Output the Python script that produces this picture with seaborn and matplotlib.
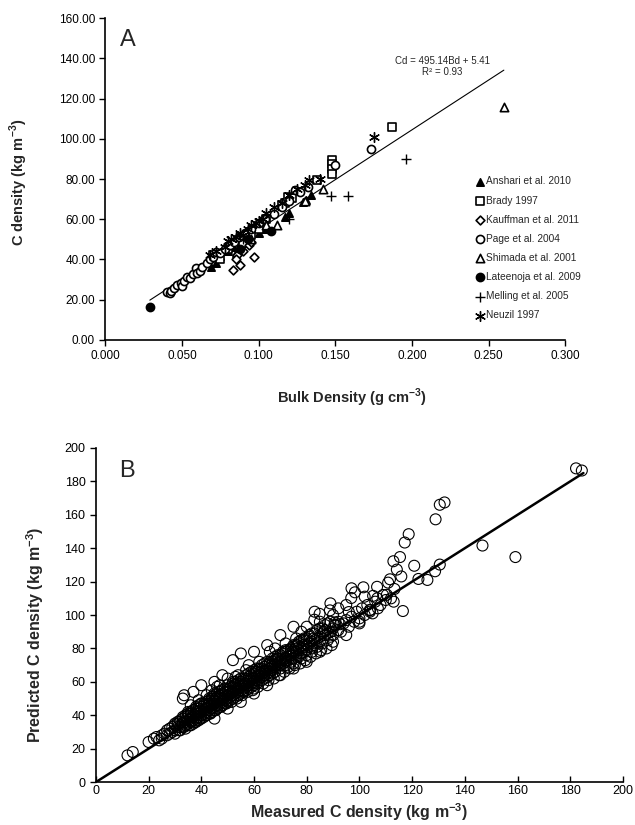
import matplotlib
matplotlib.use("Agg")
import matplotlib.pyplot as plt
import seaborn as sns
import pandas as pd

sns.set_style("ticks")
plt.rcParams['font.family'] = ['Liberation Sans', 'DejaVu Sans']
plt.rcParams['mathtext.fontset'] = 'custom'
plt.rcParams['mathtext.rm'] = 'Liberation Sans'
plt.rcParams['mathtext.bf'] = 'Liberation Sans:bold'

# ---- panel A: bulk density (g cm-3) vs C density (kg m-3), per study ----
anshari_bd = [0.069, 0.072, 0.075, 0.080, 0.083, 0.085, 0.090, 0.100, 0.105, 0.117, 0.120, 0.129, 0.131, 0.134]
anshari_cd = [36.4, 38.0, 41.7, 44.0, 46.0, 43.0, 48.0, 53.0, 55.0, 61.3, 63.0, 68.7, 69.5, 72.0]

brady_bd = [0.070, 0.075, 0.080, 0.090, 0.095, 0.100, 0.105, 0.115, 0.117, 0.119, 0.122, 0.138, 0.148, 0.148, 0.148, 0.148, 0.187]
brady_cd = [42.0, 40.0, 45.0, 48.0, 52.0, 55.0, 60.0, 67.0, 68.0, 71.2, 70.4, 79.3, 89.4, 87.5, 85.0, 82.5, 106.0]

kauffman_bd = [0.083, 0.088, 0.097, 0.086, 0.094, 0.090, 0.095, 0.085]
kauffman_cd = [34.8, 37.3, 41.1, 42.2, 47.2, 44.0, 48.5, 40.0]

page_bd = [0.040, 0.042, 0.043, 0.045, 0.047, 0.049, 0.050, 0.051, 0.053, 0.055, 0.057, 0.059, 0.060,
           0.062, 0.063, 0.066, 0.068, 0.070, 0.072, 0.075, 0.078, 0.081, 0.084, 0.087, 0.091, 0.095,
           0.100, 0.104, 0.110, 0.115, 0.120, 0.124, 0.127, 0.132, 0.150, 0.173]
page_cd = [24.0, 23.5, 24.5, 26.0, 27.5, 28.2, 27.0, 29.5, 31.5, 31.0, 33.0, 35.8, 33.5,
           34.5, 36.5, 38.0, 40.0, 41.0, 43.9, 43.0, 45.0, 47.0, 48.5, 51.0, 53.0, 55.0,
           58.0, 60.0, 62.5, 66.0, 69.0, 74.5, 73.7, 76.0, 87.0, 95.0]

shimada_bd = [0.095, 0.105, 0.112, 0.130, 0.142, 0.260]
shimada_cd = [50.0, 57.0, 57.0, 69.0, 74.9, 115.9]

lateenoja_bd = [0.029, 0.088, 0.093, 0.108]
lateenoja_cd = [16.6, 45.0, 50.0, 54.2]

melling_bd = [0.090, 0.120, 0.147, 0.158, 0.196]
melling_cd = [50.0, 60.0, 71.7, 71.7, 89.8]

neuzil_bd = [0.068, 0.072, 0.078, 0.080, 0.082, 0.085, 0.088, 0.090, 0.093, 0.095, 0.098, 0.100,
             0.103, 0.105, 0.110, 0.115, 0.120, 0.125, 0.130, 0.133, 0.140, 0.175]
neuzil_cd = [42.0, 44.0, 46.0, 49.0, 50.0, 51.0, 53.0, 52.0, 55.0, 57.0, 58.0, 59.0,
             60.0, 63.0, 66.0, 68.0, 72.0, 75.0, 77.0, 79.5, 80.0, 101.0]

fit_a_slope = 495.14
fit_a_intercept = 5.41
fit_a_range = [0.029, 0.260]

# ---- panel B: measured vs predicted C density (kg m-3) ----
meas_b = [
    12, 14, 20, 22, 23, 24, 25, 25, 26, 27,
    27, 28, 28, 29, 29, 30, 30, 30, 31, 31,
    32, 32, 32, 33, 33, 33, 34, 34, 34, 34,
    35, 35, 35, 35, 36, 36, 36, 36, 37, 37,
    37, 37, 38, 38, 38, 38, 38, 39, 39, 39,
    39, 40, 40, 40, 40, 40, 41, 41, 41, 41,
    42, 42, 42, 42, 43, 43, 43, 43, 43, 44,
    44, 44, 44, 45, 45, 45, 45, 45, 46, 46,
    46, 46, 47, 47, 47, 47, 47, 48, 48, 48,
    48, 48, 49, 49, 49, 49, 50, 50, 50, 50,
    50, 51, 51, 51, 51, 52, 52, 52, 52, 52,
    53, 53, 53, 53, 54, 54, 54, 54, 55, 55,
    55, 55, 56, 56, 56, 56, 57, 57, 57, 57,
    58, 58, 58, 58, 59, 59, 59, 59, 60, 60,
    60, 60, 61, 61, 61, 61, 62, 62, 62, 62,
    63, 63, 63, 63, 64, 64, 64, 64, 65, 65,
    65, 65, 66, 66, 66, 66, 67, 67, 67, 67,
    68, 68, 68, 69, 69, 69, 70, 70, 70, 70,
    71, 71, 71, 72, 72, 72, 72, 73, 73, 73,
    74, 74, 74, 75, 75, 75, 75, 76, 76, 76,
    77, 77, 77, 78, 78, 78, 79, 79, 79, 80,
    80, 80, 81, 81, 82, 82, 82, 83, 83, 84,
    84, 85, 85, 86, 86, 87, 87, 88, 88, 89,
    89, 90, 90, 91, 92, 92, 93, 94, 95, 96,
    97, 98, 99, 100, 101, 102, 103, 104, 105, 106,
    33, 33.5, 37, 40, 45, 48, 52, 55, 60, 65,
    70, 75, 80, 83, 89, 95, 97, 102, 104, 100,
    42, 46, 50, 54, 58, 62, 66, 68, 72, 76,
    78, 85, 90, 92, 45, 50, 55, 60, 65, 70,
    75, 80, 85, 90, 95, 100, 60, 104, 108, 110,
    112, 107, 109, 113, 36, 39, 44, 47, 53, 57,
    30, 31, 32, 33, 34, 35, 36, 37, 38, 39,
    40, 41, 42, 43, 44, 45, 46, 47, 48, 49,
    50, 51, 52, 53, 54, 55, 56, 57, 58, 59,
    60, 61, 62, 63, 64, 65, 66, 67, 68, 69,
    70, 71, 72, 73, 74, 75, 76, 77, 78, 79,
    80, 81, 82, 83, 84, 85, 86, 87, 88, 89,
    31.5, 33.5, 35.5, 37.5, 39.5, 41.5, 43.5, 45.5, 47.5, 49.5,
    51.5, 53.5, 55.5, 57.5, 59.5, 61.5, 63.5, 65.5, 67.5, 69.5,
    71.5, 73.5, 75.5, 77.5, 79.5, 81.5, 83.5, 85.5, 87.5, 89.5,
    34.5, 38.5, 42.5, 46.5, 50.5, 54.5, 58.5, 62.5, 66.5, 70.5,
    74.5, 78.5, 82.5, 86.5, 90.5, 44.5, 52.5, 60.5, 68.5, 76.5,
    182.2, 184.4, 130.5, 132.3, 128.9, 118.7, 117.2, 146.7, 159.2, 130.5,
    128.7, 125.8, 122.4, 120.8, 115.4, 112.9, 114.2, 111.6, 115.9, 110.9,
    113.3, 110.4, 116.5, 106.7, 101.5, 98.3, 96.9, 105.2, 106.8, 96.0,
    88.8, 84.9, 82.9, 90.7, 92.7,
]
pred_b = [
    16, 18, 24, 26, 27, 25, 28, 26, 29, 28,
    31, 29, 32, 30, 33, 31, 34, 29, 33, 35,
    33, 36, 31, 35, 38, 33, 36, 34, 39, 32,
    37, 35, 40, 42, 38, 36, 41, 34, 39, 37,
    43, 35, 40, 38, 42, 45, 36, 41, 39, 44,
    37, 42, 40, 45, 38, 47, 43, 41, 46, 39,
    44, 42, 47, 40, 45, 43, 49, 41, 47, 46,
    44, 50, 42, 47, 45, 49, 43, 53, 48, 46,
    51, 44, 49, 47, 52, 45, 50, 50, 48, 53,
    46, 55, 51, 49, 54, 47, 52, 50, 55, 48,
    58, 53, 51, 56, 49, 54, 52, 57, 50, 60,
    55, 53, 58, 51, 56, 54, 59, 52, 57, 55,
    60, 53, 58, 56, 61, 54, 59, 57, 62, 55,
    60, 58, 63, 56, 61, 59, 64, 57, 62, 60,
    65, 58, 63, 61, 66, 59, 64, 62, 67, 60,
    65, 63, 68, 61, 66, 64, 69, 62, 67, 65,
    70, 63, 68, 66, 71, 64, 69, 67, 72, 65,
    70, 73, 66, 71, 69, 74, 72, 68, 76, 70,
    73, 71, 77, 74, 70, 78, 72, 75, 73, 69,
    76, 72, 79, 77, 74, 81, 71, 78, 75, 80,
    79, 75, 83, 80, 77, 74, 81, 78, 85, 82,
    79, 76, 83, 87, 84, 80, 78, 85, 82, 86,
    81, 87, 84, 89, 83, 88, 91, 89, 85, 90,
    87, 92, 88, 94, 91, 96, 90, 95, 97, 93,
    99, 96, 102, 98, 104, 100, 106, 103, 101, 108,
    50, 52, 54, 58, 60, 64, 73, 77, 78, 82,
    88, 93, 93, 102, 107, 106, 116, 111, 102, 96,
    52, 57, 62, 64, 70, 72, 78, 80, 83, 86,
    90, 96, 100, 104, 38, 44, 48, 53, 58, 64,
    68, 72, 78, 84, 88, 95, 56, 103, 106, 109,
    110, 104, 112, 108, 46, 49, 55, 58, 63, 67,
    35, 36, 37, 39, 40, 41, 42, 43, 44, 46,
    47, 47, 48, 50, 51, 52, 53, 54, 55, 56,
    56, 57, 59, 60, 61, 62, 62, 64, 65, 66,
    67, 68, 68, 70, 71, 72, 72, 74, 75, 76,
    76, 78, 79, 79, 80, 82, 82, 84, 85, 86,
    86, 88, 89, 89, 91, 92, 92, 94, 95, 96,
    31, 33, 34, 36, 38, 40, 41, 43, 45, 47,
    48, 50, 52, 54, 55, 57, 59, 61, 62, 64,
    66, 68, 70, 71, 73, 75, 77, 79, 80, 82,
    38, 42, 46, 50, 54, 58, 62, 66, 70, 74,
    78, 82, 86, 90, 94, 50, 58, 66, 74, 82,
    187.8, 186.5, 166.0, 167.4, 157.3, 148.4, 143.4, 141.6, 134.7, 130.2,
    126.2, 121.0, 121.6, 129.5, 134.7, 132.2, 127.2, 121.4, 123.1, 119.4,
    115.6, 112.1, 102.4, 116.9, 116.6, 113.6, 110.2, 111.5, 110.0, 101.8,
    102.8, 100.7, 97.2, 95.6, 94.5,
]
line_b = [0, 185]

studies = [
    ("Anshari et al. 2010", anshari_bd, anshari_cd, "^", "black", 28),
    ("Brady 1997", brady_bd, brady_cd, "s", "white", 34),
    ("Kauffman et al. 2011", kauffman_bd, kauffman_cd, "D", "white", 20),
    ("Page et al. 2004", page_bd, page_cd, "o", "white", 34),
    ("Shimada et al. 2001", shimada_bd, shimada_cd, "^", "white", 36),
    ("Lateenoja et al. 2009", lateenoja_bd, lateenoja_cd, "o", "black", 34),
    ("Melling et al. 2005", melling_bd, melling_cd, "+", None, 50),
    ("Neuzil 1997", neuzil_bd, neuzil_cd, (6, 2, 0), None, 50),
]

fig = plt.figure(figsize=(6.35, 8.25), dpi=100)
ax1 = fig.add_axes([0.166, 0.588, 0.724, 0.390])
ax2 = fig.add_axes([0.151, 0.052, 0.830, 0.405])

# panel A
for name, bd, cd, mk, face, size in studies:
    if face is None:
        sns.scatterplot(x=bd, y=cd, marker=mk, color="black", s=size, linewidth=1.0,
                        ax=ax1, label=name, zorder=3)
    else:
        sns.scatterplot(x=bd, y=cd, marker=mk, facecolor=face, edgecolor="black", s=size,
                        linewidth=1.2, ax=ax1, label=name, zorder=3)

fit_df = pd.DataFrame({"bd": fit_a_range,
                       "cd": [fit_a_slope * v + fit_a_intercept for v in fit_a_range]})
sns.lineplot(data=fit_df, x="bd", y="cd", color="black", linewidth=0.8, ax=ax1, zorder=2)
ax1.text(0.220, 135.8, "Cd = 495.14Bd + 5.41\nR² = 0.93", ha="center", va="center",
         fontsize=7, linespacing=1.1)

ax1.set_xlim(0, 0.3)
ax1.set_ylim(0, 160)
ax1.set_xticks([0, 0.05, 0.1, 0.15, 0.2, 0.25, 0.3])
ax1.set_yticks(range(0, 161, 20))
ax1.xaxis.set_major_formatter(matplotlib.ticker.FormatStrFormatter("%.3f"))
ax1.yaxis.set_major_formatter(matplotlib.ticker.FormatStrFormatter("%.2f"))
ax1.tick_params(axis="both", direction="out", length=4, width=1, labelsize=8.5, colors="black")
ax1.tick_params(axis="x", pad=3)
sns.despine(ax=ax1)
for sp in ["left", "bottom"]:
    ax1.spines[sp].set_linewidth(1.2)
    ax1.spines[sp].set_color("black")

ax1.set_xlabel(r"Bulk Density (g cm$^{\mathbf{-3}}$)", fontsize=10.5, fontweight="bold")
ax1.set_ylabel(r"C density (kg m$^{\mathbf{-3}}$)", fontsize=10.5, fontweight="bold")
ax1.xaxis.set_label_coords(0.537, -0.145)
ax1.yaxis.set_label_coords(-0.165, 0.49)
ax1.text(0.032, 0.965, "A", transform=ax1.transAxes, fontsize=17, va="top", ha="left")

leg = ax1.legend(loc="upper left", bbox_to_anchor=(0.805, 0.508), frameon=False, fontsize=7.3,
                 handlelength=0.8, handletextpad=0.25, labelspacing=0.9, borderpad=0,
                 borderaxespad=0)

# panel B
sns.scatterplot(x=meas_b, y=pred_b, marker="o", facecolor="none", edgecolor="black",
                s=62, linewidth=0.8, ax=ax2, zorder=3)
sns.lineplot(x=line_b, y=line_b, color="black", linewidth=1.8, ax=ax2, zorder=4)

ax2.set_xlim(0, 200)
ax2.set_ylim(0, 200)
ax2.set_xticks(range(0, 201, 20))
ax2.set_yticks(range(0, 201, 20))
ax2.tick_params(axis="both", length=4, width=1, labelsize=9, colors="black")
ax2.tick_params(axis="x", direction="in", pad=2)
ax2.tick_params(axis="y", direction="out")
sns.despine(ax=ax2)
for sp in ["left", "bottom"]:
    ax2.spines[sp].set_linewidth(1.2)
    ax2.spines[sp].set_color("black")

ax2.set_xlabel(r"Measured C density (kg m$^{\mathbf{-3}}$)", fontsize=11.5, fontweight="bold")
ax2.set_ylabel(r"Predicted C density (kg m$^{\mathbf{-3}}$)", fontsize=11.5, fontweight="bold")
ax2.xaxis.set_label_coords(0.5, -0.058)
ax2.yaxis.set_label_coords(-0.094, 0.44)
ax2.text(0.045, 0.965, "B", transform=ax2.transAxes, fontsize=17, va="top", ha="left")

fig.savefig("out.png", dpi=100)
